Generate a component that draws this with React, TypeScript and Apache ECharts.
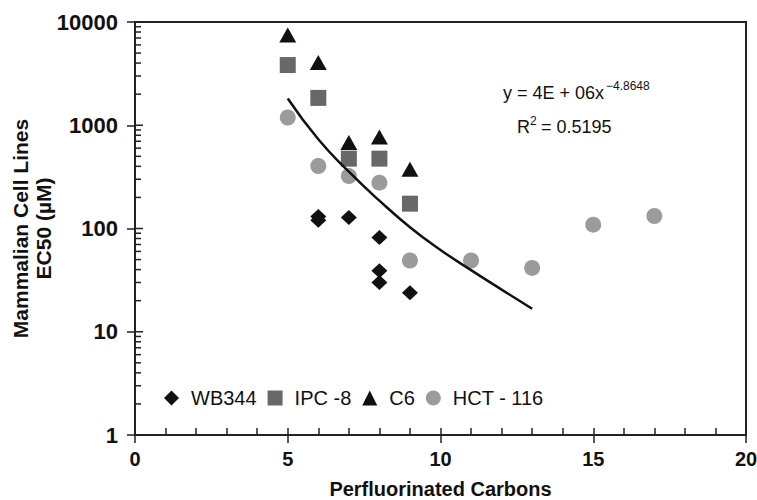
import React, { useEffect, useRef } from "react";
import * as echarts from "echarts";

const wb344X = [6, 6, 7, 8, 8, 8, 9];
const wb344Y = [131, 120, 128, 82, 39, 30, 23.8];
const ipc8X = [5, 6, 7, 8, 9];
const ipc8Y = [3830, 1840, 475, 475, 174];
const c6X = [5, 6, 7, 8, 9];
const c6Y = [7480, 4060, 680, 770, 374];
const hctX = [5, 6, 7, 8, 9, 11, 13, 15, 17];
const hctY = [1190, 403, 322, 278, 49, 49, 41.5, 109, 132];
const trendX = [5, 6, 7, 8, 9, 10, 11, 12, 13];
const trendY = [1815, 731, 355, 186, 103, 62, 39.5, 25.6, 16.7];

const yMajorTicks = [1, 10, 100, 1000, 10000];
const yMinorMantissas = [2, 3, 4, 5, 6, 7, 8, 9];
const yDecades = [1, 10, 100, 1000];

const legendNames = ["WB344", "IPC -8", "C6", "HCT - 116"];
const equationText = "y = 4E + 06x";
const equationExp = "\u22124.8648";
const r2Label = "R";
const r2Exp = "2";
const r2Value = " = 0.5195";

const FONT = "'Liberation Sans', Arial, Helvetica, sans-serif";

const zip = (xs: number[], ys: number[]) => xs.map((x, i) => [x, ys[i]]);

export default function App() {
  const ref = useRef<HTMLDivElement>(null);
  useEffect(() => {
    document.body.style.margin = "0";
    const chart = echarts.init(ref.current!, undefined, { renderer: "svg" });
    const innerTicks: number[][] = [];
    yMajorTicks.forEach((v) => innerTicks.push([v, 8]));
    yDecades.forEach((d) => yMinorMantissas.forEach((m) => innerTicks.push([m * d, 6])));

    const option: any = {
      animation: false,
      backgroundColor: "#fff",
      textStyle: { fontFamily: FONT },
      grid: {
        left: 135,
        right: 11,
        top: 22,
        bottom: 65,
        containLabel: false,
        outerBoundsMode: "none",
        show: true,
        borderColor: "#222",
        borderWidth: 2,
        backgroundColor: "transparent",
      },
      legend: {
        left: 164,
        top: 388,
        padding: 0,
        itemWidth: 15,
        itemHeight: 15,
        itemGap: 11,
        textStyle: { fontFamily: FONT, fontSize: 20, color: "#111", padding: [0, 0, 0, 7] },
        data: legendNames,
      },
      xAxis: [
        {
          type: "value",
          min: 0,
          max: 20,
          interval: 5,
          position: "bottom",
          axisLine: { show: true, lineStyle: { color: "#222", width: 2 } },
          axisTick: { show: true, inside: false, length: 8, lineStyle: { color: "#222", width: 1.5 } },
          axisLabel: { margin: 14, fontFamily: FONT, fontSize: 20, fontWeight: "bold", color: "#111" },
          splitLine: { show: false },
          name: "Perfluorinated Carbons",
          nameLocation: "middle",
          nameGap: 44,
          nameMoveOverlap: false,
          nameTextStyle: { fontFamily: FONT, fontSize: 20, fontWeight: "bold", color: "#111" },
        },
        {
          type: "value",
          min: 0,
          max: 20,
          interval: 1,
          position: "bottom",
          axisLine: { show: false },
          axisTick: { show: true, inside: true, length: 7, lineStyle: { color: "#222", width: 1.5 } },
          axisLabel: { show: false },
          splitLine: { show: false },
        },
      ],
      yAxis: [
        {
          type: "log",
          logBase: 10,
          min: 1,
          max: 10000,
          position: "left",
          axisLine: { show: true, lineStyle: { color: "#222", width: 2 } },
          axisTick: { show: true, inside: false, length: 8, lineStyle: { color: "#222", width: 1.5 } },
          minorTick: { show: false },
          axisLabel: {
            margin: 17,
            fontFamily: FONT,
            fontSize: 22,
            fontWeight: "bold",
            color: "#111",
            formatter: (v: number) => String(Math.round(v)),
          },
          splitLine: { show: false },
          name: "Mammalian Cell Lines\nEC50 (\u00b5M)",
          nameLocation: "middle",
          nameRotate: 90,
          nameGap: 80,
          nameMoveOverlap: false,
          nameTextStyle: { fontFamily: FONT, fontSize: 21, fontWeight: "bold", color: "#111", lineHeight: 23 },
        },
      ],
      series: [
        {
          type: "custom",
          xAxisIndex: 0,
          yAxisIndex: 0,
          silent: true,
          data: innerTicks.map((t) => [0, t[0], t[1]]),
          encode: { x: 0, y: 1 },
          renderItem: (params: any, api: any) => {
            const p = api.coord([0, api.value(1)]);
            const len = api.value(2);
            return {
              type: "line",
              shape: { x1: p[0], y1: p[1], x2: p[0] + len, y2: p[1] },
              style: { stroke: "#222", lineWidth: 1.5 },
            };
          },
          z: 1,
        },
        {
          name: "WB344",
          type: "scatter",
          symbol: "diamond",
          symbolSize: [16, 15],
          itemStyle: { color: "#111", opacity: 1 },
          data: zip(wb344X, wb344Y),
          z: 2,
        },
        {
          name: "IPC -8",
          type: "scatter",
          symbol: "rect",
          symbolSize: 16,
          itemStyle: { color: "#686868", opacity: 1 },
          data: zip(ipc8X, ipc8Y),
          z: 3,
        },
        {
          name: "C6",
          type: "scatter",
          symbol: "triangle",
          symbolSize: [17, 15],
          itemStyle: { color: "#111", opacity: 1 },
          data: zip(c6X, c6Y),
          z: 4,
        },
        {
          name: "HCT - 116",
          type: "scatter",
          symbol: "circle",
          symbolSize: 16,
          itemStyle: { color: "#9b9b9b", opacity: 1 },
          data: zip(hctX, hctY),
          z: 5,
        },
        {
          name: "trend",
          type: "line",
          smooth: true,
          showSymbol: false,
          symbol: "none",
          lineStyle: { color: "#111", width: 2.5 },
          data: zip(trendX, trendY),
          z: 6,
        },
      ],
      graphic: [
        {
          type: "text",
          x: 503,
          y: 93,
          style: { text: equationText, font: `18px ${FONT}`, fill: "#111", verticalAlign: "middle" },
        },
        {
          type: "text",
          x: 606,
          y: 86,
          style: { text: equationExp, font: `12px ${FONT}`, fill: "#111", verticalAlign: "middle" },
        },
        {
          type: "text",
          x: 517,
          y: 127,
          style: { text: r2Label, font: `18px ${FONT}`, fill: "#111", verticalAlign: "middle" },
        },
        {
          type: "text",
          x: 530,
          y: 121,
          style: { text: r2Exp, font: `12px ${FONT}`, fill: "#111", verticalAlign: "middle" },
        },
        {
          type: "text",
          x: 536,
          y: 127,
          style: { text: r2Value, font: `18px ${FONT}`, fill: "#111", verticalAlign: "middle" },
        },
      ],
    };
    chart.setOption(option);
    return () => chart.dispose();
  }, []);
  return (
    <div
      ref={ref}
      style={{ position: "fixed", left: 0, top: 0, width: 757, height: 500, background: "#fff" }}
    />
  );
}
